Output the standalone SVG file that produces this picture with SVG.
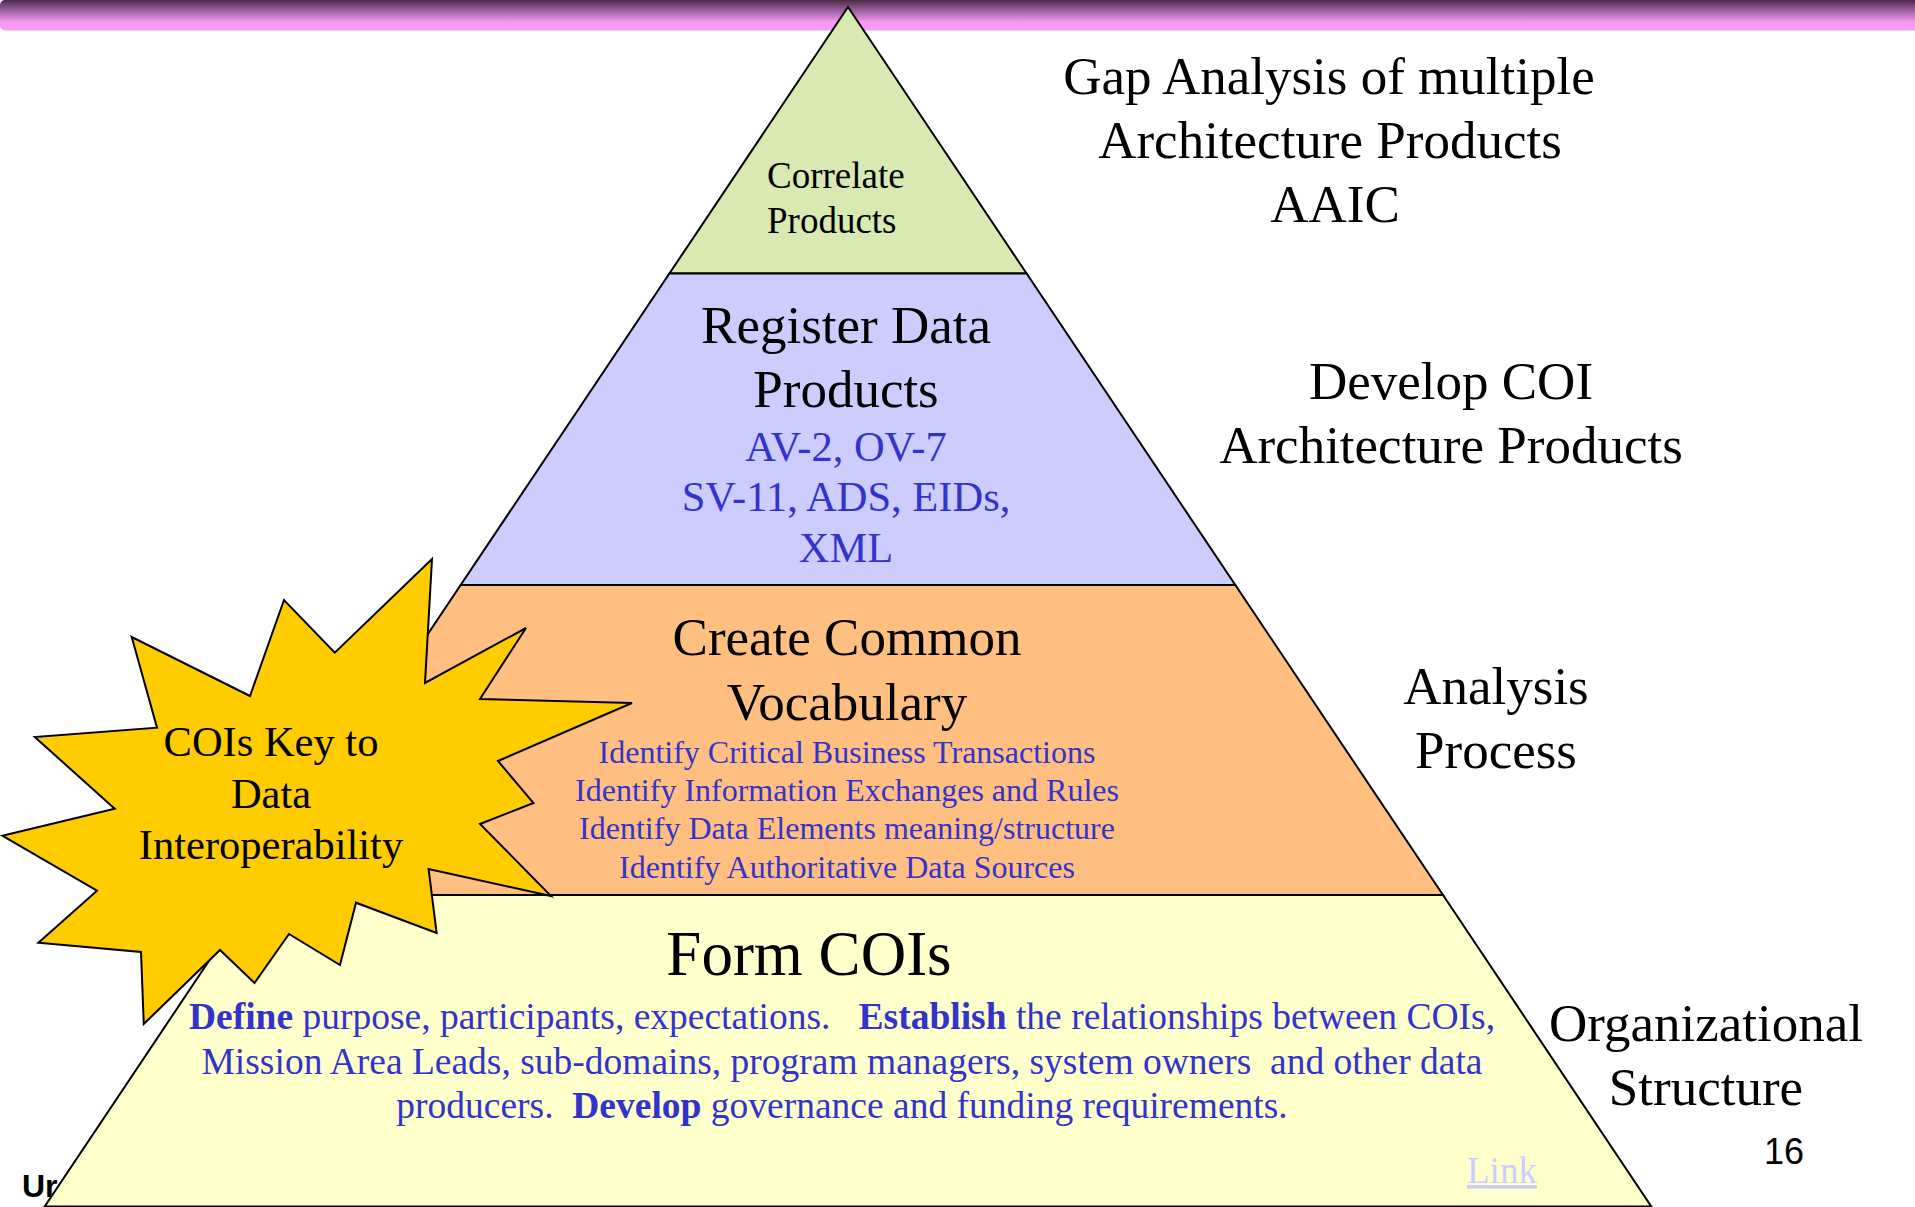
<svg xmlns="http://www.w3.org/2000/svg" width="1915" height="1207" viewBox="0 0 1915 1207">
<defs>
<linearGradient id="barGrad" x1="0" y1="0" x2="0" y2="1">
<stop offset="0" stop-color="#4a2a47"/>
<stop offset="0.35" stop-color="#a062a0"/>
<stop offset="0.72" stop-color="#f598f1"/>
<stop offset="1" stop-color="#fa9cf8"/>
</linearGradient>
<style>
.serif{font-family:"Liberation Serif","Times New Roman",serif;}
.blk{fill:#000000;}
.blue{fill:#3333cc;}
.mid{text-anchor:middle;}
.tier{stroke:#000000;stroke-width:2;stroke-linejoin:miter;}
.lbl{font-size:53px;}
.pre{white-space:pre;}
</style>
</defs>
<rect width="1915" height="1207" fill="#ffffff"/>
<g id="top-bar">
<rect x="0" y="0" width="1930" height="30.5" rx="5" ry="5" fill="url(#barGrad)"/>
</g>
<g id="footer-left">
<text x="22" y="1197" font-family="'Liberation Sans',Arial,sans-serif" font-weight="bold" font-size="32" fill="#000000">Ur</text>
</g>
<g id="tier-correlate">
<polygon class="tier" points="848,7 1026.6,273.5 669.4,273.5" fill="#d8e9b2"/>
<text class="serif blk" font-size="37" x="767" y="188">Correlate</text>
<text class="serif blk" font-size="37" x="767" y="233">Products</text>
</g>
<g id="tier-register">
<polygon class="tier" points="669.4,273.5 1026.6,273.5 1235.3,585 460.7,585" fill="#ccccff"/>
<text class="serif blk mid lbl" x="846" y="343">Register Data</text>
<text class="serif blk mid lbl" x="846" y="407">Products</text>
<text class="serif blue mid" font-size="42.5" x="846" y="461">AV-2, OV-7</text>
<text class="serif blue mid" font-size="42.5" x="846" y="511">SV-11, ADS, EIDs,</text>
<text class="serif blue mid" font-size="42.5" x="846" y="562">XML</text>
</g>
<g id="tier-vocabulary">
<polygon class="tier" points="460.7,585 1235.3,585 1443,895 253,895" fill="#ffbf80"/>
<text class="serif blk mid lbl" x="847" y="655">Create Common</text>
<text class="serif blk mid lbl" x="847" y="719.5">Vocabulary</text>
<text class="serif blue mid" font-size="32" x="847" y="763">Identify Critical Business Transactions</text>
<text class="serif blue mid" font-size="32" x="847" y="801">Identify Information Exchanges and Rules</text>
<text class="serif blue mid" font-size="32" x="847" y="839">Identify Data Elements meaning/structure</text>
<text class="serif blue mid" font-size="32" x="847" y="877.5">Identify Authoritative Data Sources</text>
</g>
<g id="tier-form">
<polygon class="tier" points="253,895 1443,895 1651.3,1206.5 44.7,1206.5" fill="#ffffcc"/>
<text class="serif blk mid" font-size="63" x="809" y="975">Form COIs</text>
<text class="serif blue mid pre" font-size="37.5" x="842" y="1028.5"><tspan font-weight="bold">Define</tspan> purpose, participants, expectations.   <tspan font-weight="bold">Establish</tspan> the relationships between COIs,</text>
<text class="serif blue mid pre" font-size="37.5" x="842" y="1073.5">Mission Area Leads, sub-domains, program managers, system owners  and other data</text>
<text class="serif blue mid pre" font-size="37.5" x="842" y="1117.5">producers.  <tspan font-weight="bold">Develop</tspan> governance and funding requirements.</text>
<text class="serif" font-size="37" x="1467" y="1183" fill="#ccccff" text-decoration="underline">Link</text>
</g>
<g id="starburst">
<polygon points="432,559 425,683 526,628 480,699 632,703 498,761 533.5,803 480,824 551,896 428.6,869 436.6,933 356,902.7 340,965 289,934 254.5,983 220,950 143.75,1024 141,952 38.4,942.7 97,890.7 2.2,835.7 114.7,808.7 34.8,737 157,727.7 131.7,637 250,696 284,600 334.8,652.7" fill="#ffcc00" stroke="#000000" stroke-width="2" stroke-linejoin="miter"/>
<text class="serif blk mid" font-size="42.5" x="271" y="756">COIs Key to</text>
<text class="serif blk mid" font-size="42.5" x="271" y="808">Data</text>
<text class="serif blk mid" font-size="42.5" x="271" y="859">Interoperability</text>
</g>
<g id="label-gap">
<text class="serif blk mid lbl" x="1329" y="94">Gap Analysis of multiple</text>
<text class="serif blk mid lbl" x="1330" y="158">Architecture Products</text>
<text class="serif blk mid lbl" x="1335" y="222">AAIC</text>
</g>
<g id="label-develop">
<text class="serif blk mid lbl" x="1451" y="399">Develop COI</text>
<text class="serif blk mid lbl" x="1451" y="463">Architecture Products</text>
</g>
<g id="label-analysis">
<text class="serif blk mid lbl" x="1496" y="704">Analysis</text>
<text class="serif blk mid lbl" x="1496" y="767.5">Process</text>
</g>
<g id="label-organizational">
<text class="serif blk mid lbl" x="1706" y="1041">Organizational</text>
<text class="serif blk mid lbl" x="1706" y="1105">Structure</text>
</g>
<g id="page-number">
<text x="1764" y="1164" font-family="'Liberation Sans',Arial,sans-serif" font-size="36" fill="#000000">16</text>
</g>
</svg>
